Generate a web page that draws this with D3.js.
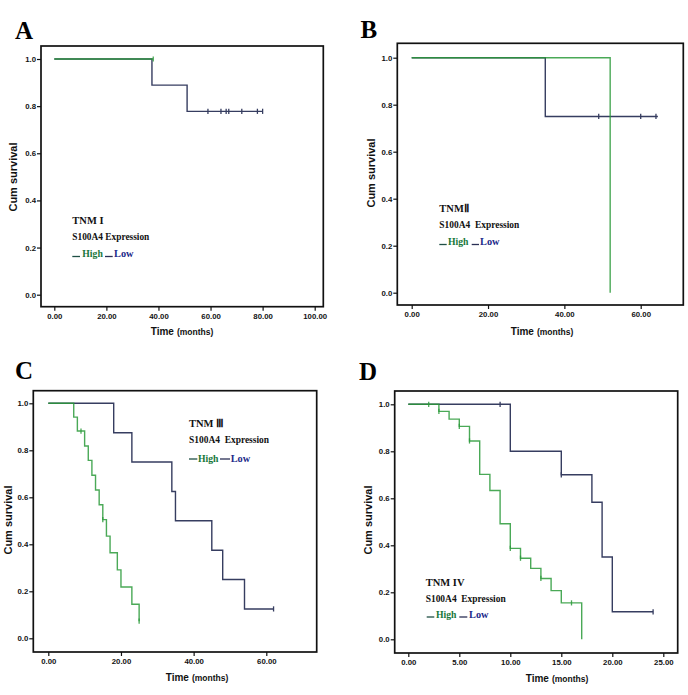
<!DOCTYPE html>
<html><head><meta charset="utf-8">
<script src="https://cdn.jsdelivr.net/npm/d3@7"></script>
<style>body{margin:0;background:#fff}svg{display:block}text{white-space:pre}</style>
</head><body>
<svg id="c" width="688" height="695"></svg>
<script>
// ---------- data ----------
// Panel A (TNM I)
const aHighT = [0];            const aHighS = [1];
const aHighCens = [38];        const aHighEnd = 38;
const aLowT = [0, 37.5, 51];   const aLowS = [1, 0.889, 0.778];
const aLowCens = [59, 64, 66, 67, 72, 78, 80]; const aLowEnd = 80;
const aXTicks = [0, 20, 40, 60, 80, 100];
// Panel B (TNM II)
const bHighT = [0, 52];        const bHighS = [1, 0];
const bHighCens = [];          const bHighEnd = 52;
const bLowT = [0, 35];         const bLowS = [1, 0.75];
const bLowCens = [49, 60, 64]; const bLowEnd = 64.5;
const bXTicks = [0, 20, 40, 60];
// Panel C (TNM III)
const cHighT = [0, 7, 8, 10, 11, 12, 13, 14, 15, 16, 17, 19, 20, 23, 25];
const cHighS = [1, 0.941, 0.882, 0.818, 0.757, 0.694, 0.631, 0.568, 0.505, 0.435, 0.364, 0.291, 0.218, 0.145, 0.073];
const cHighCens = [9, 15, 25]; const cHighEnd = 25;
const cLowT = [0, 18, 23, 34, 35, 45, 48, 54];
const cLowS = [1, 0.875, 0.75, 0.625, 0.5, 0.375, 0.25, 0.125];
const cLowCens = [62];         const cLowEnd = 62;
const cXTicks = [0, 20, 40, 60];
// Panel D (TNM IV)
const dHighT = [0, 3, 4, 5, 6, 7, 8, 9, 10, 11, 12, 13, 14, 15, 17];
const dHighS = [1, 0.970, 0.937, 0.906, 0.844, 0.702, 0.633, 0.492, 0.387, 0.345, 0.302, 0.259, 0.207, 0.155, 0];
const dHighCens = [2, 3, 5, 6, 10, 11, 13, 16]; const dHighEnd = 17;
const dLowT = [0, 10, 15, 18, 19, 20];
const dLowS = [1, 0.8, 0.7, 0.583, 0.35, 0.117];
const dLowCens = [9, 15, 24];  const dLowEnd = 24;
const dXTicks = [0, 5, 10, 15, 20, 25];

const yTicks = [0, 0.2, 0.4, 0.6, 0.8, 1.0];
const panelLetters = ["A", "B", "C", "D"];
const stageLabels = ["TNM I", "TNM\u2161", "TNM \u2162", "TNM IV"];
const exprLabels = ["S100A4 Expression", "S100A4  Expression", "S100A4  Expression", "S100A4  Expression"];
const groupLabels = ["High", "Low"];
const yTitle = "Cum survival";
const xTitleMain = "Time", xTitleUnit = "(months)";

// ---------- style ----------
const HIGH = "#2a9a3a", LOW = "#363d60";
const HIGH_TXT = "#17773a", LOW_TXT = "#1c2a8a";

// ---------- layout ----------
const layouts = [
  {fr:[41,46,323.3,306.7], xr:[54.3,314.7], xd:[0,100], yr:[294.7,59],
   letter:[15,39], xt:[182,335], yt:[13.3,177], lx:72.3, lb:[224,240,256.7], ew:77,
   d1:[72.3,80,256.5], hx:82.3, d2:[105,112.7,256.5], lowx:114},
  {fr:[397.3,43.3,683.3,305], xr:[411.7,640.7], xd:[0,60], yr:[292.7,57.7],
   letter:[360.5,38.3], xt:[542,335], yt:[370.7,173], lx:439.3, lb:[211.7,227.7,245], ew:80,
   d1:[439.3,446.7,244.5], hx:448, d2:[471.7,479,244.5], lowx:480},
  {fr:[33.3,390.7,316.7,652], xr:[48.3,266.3], xd:[0,60], yr:[638.3,403.3],
   letter:[15,379.3], xt:[197,681], yt:[8.3,520], lx:189, lb:[427.3,443.3,461.7], ew:80,
   d1:[189,197.3,459], hx:198, d2:[220,230,459], lowx:230.7},
  {fr:[394.7,391,677.7,653], xr:[408.3,663.3], xd:[0,25], yr:[639.3,404.3],
   letter:[359,380], xt:[557,682], yt:[368,520], lx:425.7, lb:[585.7,601.7,618.3], ew:80,
   d1:[426.7,434.3,617], hx:436, d2:[459.3,467.3,617], lowx:469}
];

const curves = [
  {ticks:aXTicks, high:[aHighT,aHighS,aHighCens,aHighEnd], low:[aLowT,aLowS,aLowCens,aLowEnd]},
  {ticks:bXTicks, high:[bHighT,bHighS,bHighCens,bHighEnd], low:[bLowT,bLowS,bLowCens,bLowEnd]},
  {ticks:cXTicks, high:[cHighT,cHighS,cHighCens,cHighEnd], low:[cLowT,cLowS,cLowCens,cLowEnd]},
  {ticks:dXTicks, high:[dHighT,dHighS,dHighCens,dHighEnd], low:[dLowT,dLowS,dLowCens,dLowEnd]}
];

const svg = d3.select("#c");
const SANS = "'Liberation Sans', Arial, sans-serif";
const SERIF = "'Liberation Serif', 'Times New Roman', serif";

layouts.forEach((L, i) => {
  const g = svg.append("g");
  const x = d3.scaleLinear().domain(L.xd).range(L.xr);
  const y = d3.scaleLinear().domain([0, 1]).range(L.yr);
  const [fl, ft, fr, fb] = L.fr;

  // axes
  const xa = g.append("g").attr("transform", `translate(0,${fb})`)
    .call(d3.axisBottom(x).tickValues(curves[i].ticks).tickFormat(d3.format(".2f")).tickSize(4).tickPadding(2.5));
  const ya = g.append("g").attr("transform", `translate(${fl},0)`)
    .call(d3.axisLeft(y).tickValues(yTicks).tickFormat(d3.format(".1f")).tickSize(4).tickPadding(1));
  [xa, ya].forEach(a => {
    a.select(".domain").remove();
    a.selectAll(".tick line").attr("stroke", "#111").attr("stroke-width", 1.2);
    a.selectAll(".tick text").attr("font-family", SANS).attr("font-weight", "bold")
      .attr("font-size", 7.8).attr("fill", "#111");
  });

  // curves
  const line = d3.line().x(d => x(d[0])).y(d => y(d[1])).curve(d3.curveStepAfter);
  const drawCurve = (c, color, op) => {
    const [T, S, C, end] = c;
    const pts = T.map((t, k) => [t, S[k]]);
    pts.push([end, S[S.length - 1]]);
    g.append("path").attr("d", line(pts)).attr("fill", "none")
      .attr("stroke", color).attr("stroke-width", 1.4).attr("stroke-opacity", op);
    C.forEach(ct => {
      let k = d3.bisectRight(T, ct) - 1;
      const sv = S[Math.max(0, k)];
      g.append("line").attr("x1", x(ct)).attr("x2", x(ct))
        .attr("y1", y(sv) - 2.6).attr("y2", y(sv) + 2.6)
        .attr("stroke", color).attr("stroke-width", 1.3).attr("stroke-opacity", op);
    });
  };
  drawCurve(curves[i].low, LOW, 1);
  drawCurve(curves[i].high, HIGH, 0.85);

  // frame
  g.append("rect").attr("x", fl).attr("y", ft).attr("width", fr - fl).attr("height", fb - ft)
    .attr("fill", "none").attr("stroke", "#111").attr("stroke-width", 1.7);

  // panel letter
  g.append("text").attr("x", L.letter[0]).attr("y", L.letter[1]).text(panelLetters[i])
    .attr("font-family", SERIF).attr("font-weight", "bold").attr("font-size", 25).attr("fill", "#000");

  // axis titles
  const xt = g.append("text").attr("x", L.xt[0]).attr("y", L.xt[1]).attr("text-anchor", "middle")
    .attr("font-family", SANS).attr("font-weight", "bold").attr("fill", "#111");
  xt.append("tspan").attr("font-size", 10).text(xTitleMain);
  xt.append("tspan").attr("font-size", 8.5).attr("dx", 3).text(xTitleUnit);
  g.append("text").attr("transform", `translate(${L.yt[0] + 4},${L.yt[1]}) rotate(-90)`)
    .attr("text-anchor", "middle").attr("font-family", SANS).attr("font-weight", "bold")
    .attr("font-size", 11).attr("fill", "#111").text(yTitle);

  // legend text
  const lt = (xx, yy, s, col, w) => {
    const t = g.append("text").attr("x", xx).attr("y", yy).text(s)
      .attr("font-family", SERIF).attr("font-weight", "bold").attr("font-size", 10.5).attr("fill", col);
    if (w) t.attr("textLength", w).attr("lengthAdjust", "spacingAndGlyphs");
    return t;
  };
  lt(L.lx, L.lb[0], stageLabels[i], "#111");
  lt(L.lx, L.lb[1], exprLabels[i], "#111", L.ew);
  g.append("line").attr("x1", L.d1[0]).attr("x2", L.d1[1]).attr("y1", L.d1[2]).attr("y2", L.d1[2])
    .attr("stroke", "#1f4f45").attr("stroke-width", 1.3);
  lt(L.hx, L.lb[2], groupLabels[0], HIGH_TXT, 20.5);
  g.append("line").attr("x1", L.d2[0]).attr("x2", L.d2[1]).attr("y1", L.d2[2]).attr("y2", L.d2[2])
    .attr("stroke", "#2a2f55").attr("stroke-width", 1.3);
  lt(L.lowx, L.lb[2], groupLabels[1], LOW_TXT, 19.5);
});
</script>
</body></html>
